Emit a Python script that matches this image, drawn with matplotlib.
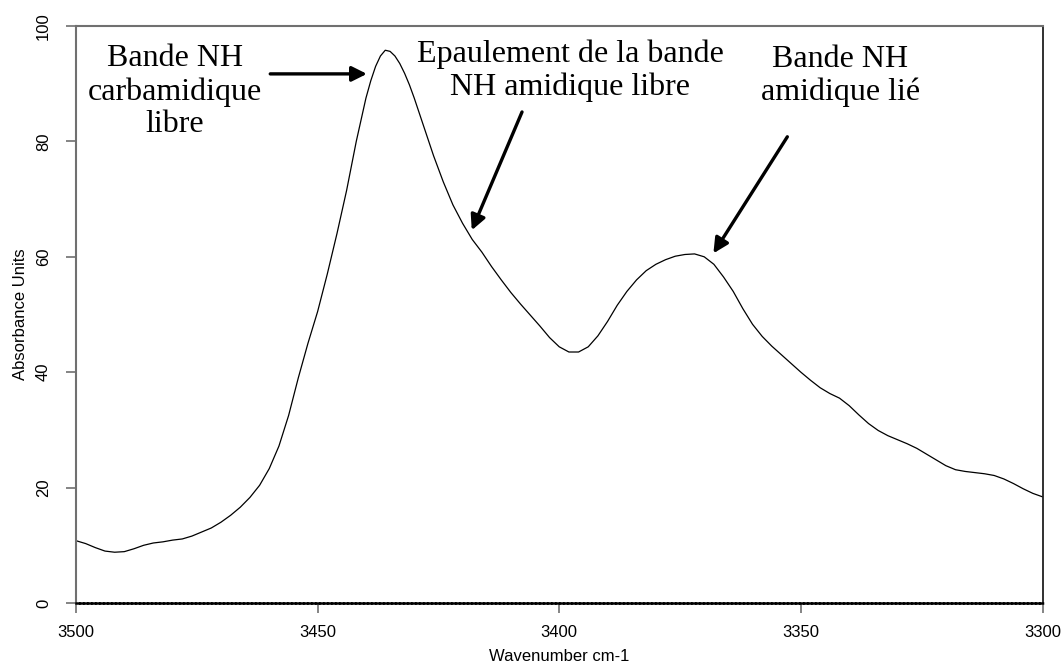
import numpy as np
import matplotlib
matplotlib.use("Agg")
import matplotlib.pyplot as plt

# IR spectrum in the NH stretching region (read values)
wavenumber = [3500, 3498, 3496, 3494, 3492, 3490, 3488, 3486, 3484, 3482, 3480,
              3478, 3476, 3474, 3472, 3470, 3468, 3466, 3464, 3462, 3460, 3458,
              3456, 3454, 3452, 3450, 3448, 3446, 3444, 3442, 3440, 3439, 3438,
              3437, 3436, 3435, 3434, 3433, 3432, 3431, 3430, 3428, 3426, 3424,
              3422, 3420, 3418, 3416, 3414, 3412, 3410, 3408, 3406, 3404, 3402,
              3400, 3398, 3396, 3394, 3392, 3390, 3388, 3386, 3384, 3382, 3380,
              3378, 3376, 3374, 3372, 3370, 3368, 3366, 3364, 3362, 3360, 3358,
              3356, 3354, 3352, 3350, 3348, 3346, 3344, 3342, 3340, 3338, 3336,
              3334, 3332, 3330, 3328, 3326, 3324, 3322, 3320, 3318, 3316, 3314,
              3312, 3310, 3308, 3306, 3304, 3302, 3300]
absorbance = [10.8, 10.3, 9.6, 9.0, 8.8, 8.9, 9.4, 10.0, 10.4, 10.6, 10.9,
              11.1, 11.6, 12.3, 13.0, 14.0, 15.2, 16.6, 18.3, 20.4, 23.3, 27.2,
              32.5, 39.0, 45.0, 50.5, 57.0, 64.0, 71.5, 80.0, 87.5, 90.5, 93.0,
              94.8, 95.8, 95.6, 94.8, 93.5, 91.8, 89.8, 87.5, 82.5, 77.5, 73.0,
              69.0, 65.8, 63.0, 60.8, 58.3, 56.0, 53.8, 51.8, 49.9, 48.0, 46.0,
              44.4, 43.5, 43.5, 44.4, 46.3, 48.8, 51.6, 54.0, 56.0, 57.6, 58.7,
              59.5, 60.1, 60.4, 60.5, 60.0, 58.7, 56.5, 54.0, 51.0, 48.3, 46.2,
              44.5, 43.0, 41.5, 40.0, 38.6, 37.3, 36.3, 35.5, 34.2, 32.6, 31.1,
              29.9, 29.0, 28.3, 27.6, 26.8, 25.8, 24.8, 23.8, 23.1, 22.8, 22.6,
              22.4, 22.1, 21.5, 20.7, 19.8, 19.0, 18.4]

x_ticks = [3500, 3450, 3400, 3350, 3300]
y_ticks = [0, 20, 40, 60, 80, 100]

# band labels: (text, text position, arrow tail, arrow tip)
labels = ["Bande NH\ncarbamidique\nlibre",
          "Epaulement de la bande\nNH amidique libre",
          "Bande NH\namidique lié"]
label_pos = [(3479.5, 88.6), (3397.7, 92.2), (3341.8, 91.3)]
arrow_tail = [(3459.8, 91.7), (3407.7, 85.1), (3352.8, 80.8)]
arrow_tip = [(3439.8, 91.7), (3418.1, 64.6), (3368.1, 60.6)]

fig = plt.figure(figsize=(10.64, 6.70), dpi=100)
ax = fig.add_axes([0.0714, 0.1, 0.9084, 0.8612])

ax.plot(wavenumber, absorbance, color="black", linewidth=0.9)

ax.set_xlim(3500, 3300)
ax.set_ylim(0, 100)
ax.set_xticks(x_ticks)
ax.set_yticks(y_ticks)
ax.set_xticklabels([str(v) for v in x_ticks], fontname="Liberation Sans", fontsize=12)
ax.set_yticklabels([str(v) for v in y_ticks], fontname="Liberation Sans", fontsize=12,
                   rotation=90, va="center")
ax.tick_params(axis="both", direction="out", length=7, width=1.2, color="#707070")
ax.tick_params(axis="x", pad=9)
ax.tick_params(axis="y", pad=11)

ax.set_xlabel("Wavenumber cm-1", fontname="Liberation Sans", fontsize=12, labelpad=6)
ax.set_ylabel("Absorbance Units", fontname="Liberation Sans", fontsize=12, labelpad=6)

for side in ["left", "top"]:
    ax.spines[side].set_color("#707070")
    ax.spines[side].set_linewidth(1.5)
ax.spines["right"].set_color("#202020")
ax.spines["right"].set_linewidth(1.3)
ax.spines["bottom"].set_color("black")
ax.spines["bottom"].set_linewidth(1.8)
ax.spines["bottom"].set_linestyle((0, (1, 0.6)))

for text, pos, tail, tip in zip(labels, label_pos, arrow_tail, arrow_tip):
    ax.text(pos[0], pos[1], text, ha="center", va="center", fontsize=23,
            fontname="Liberation Serif", linespacing=1.17)
    ax.annotate("", xy=tip, xytext=tail,
                arrowprops=dict(arrowstyle="-|>,head_length=0.9,head_width=0.45",
                                color="black", lw=2.4, shrinkA=0, shrinkB=0))

fig.savefig("out.png", dpi=100)
